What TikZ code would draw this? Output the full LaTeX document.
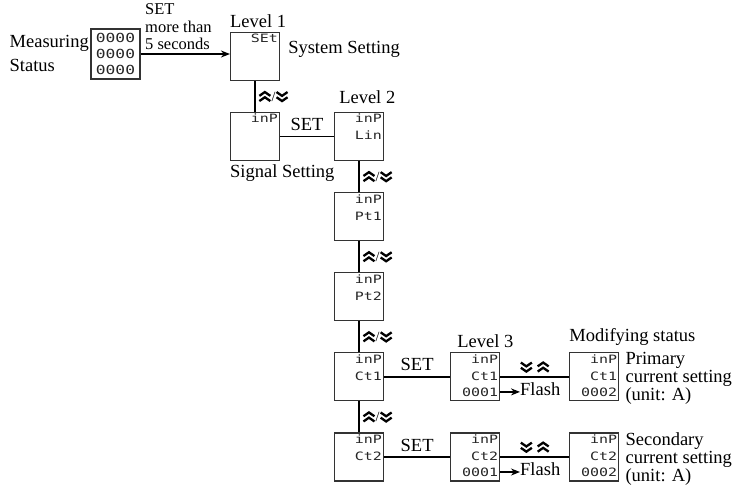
\documentclass[tikz,border=0pt]{standalone}
\usepackage{fontspec}
\setmainfont{Liberation Serif}
\newfontfamily\segfont{DejaVu Sans Mono}[FakeStretch=1.3]
\usetikzlibrary{positioning,arrows.meta}

% double chevrons of the up/down keys
\newcommand{\chup}{\tikz[x=1pt, y=1pt, baseline=0pt]{\draw[line width=2.3pt, line join=miter] (0,0) -- (5.5,3.8) -- (11,0) (0,5.2) -- (5.5,9) -- (11,5.2);}}
\newcommand{\chdn}{\tikz[x=1pt, y=1pt, baseline=0pt]{\draw[line width=2.3pt, line join=miter] (0,9) -- (5.5,5.2) -- (11,9) (0,3.8) -- (5.5,0) -- (11,3.8);}}

\begin{document}
\begin{tikzpicture}[x=1pt, y=-1pt,
        node distance=31pt and 54pt,
        >={Stealth[length=9pt, width=7pt]},
        disp/.style={rectangle, draw=black!80, line width=1.1pt, minimum width=49pt, minimum height=48pt, inner sep=0pt},
        seg/.style={font=\segfont\fontsize{11.5}{17}\selectfont, text=black!85, align=right, inner sep=2pt, anchor=north east},
        val/.style={font=\segfont\fontsize{11.5}{17}\selectfont, text=black!85, inner xsep=2pt, inner ysep=5pt, anchor=south east},
        lbl/.style={font=\fontsize{18.5}{18}\selectfont, inner sep=0pt},
        keys/.style={font=\fontsize{14}{14}\selectfont, inner sep=3pt},
        link/.style={line width=1.6pt}
    ]
    \useasboundingbox (0,0) rectangle (734,491);

    % measuring status and level 1
    \node[disp, minimum height=50pt] (meas) at (115.5,54) {};
    \node[font=\segfont\fontsize{12.5}{16}\selectfont, text=black!85, align=center, inner sep=0pt] (measd) at (meas) {0000\\0000\\0000};
    \node[lbl, align=left, anchor=east, font=\fontsize{18.5}{24}\selectfont] (meast) at (89,53.5) {Measuring\\Status};

    \node[disp] (set) at (255,56.5) {};
    \node[seg] (setd) at (set.north east) {SEt};
    \node[lbl, above right=4pt and 0pt of set.north west] (lv1) {Level 1};
    \node[lbl, below right=9pt and 8pt of set.north east] (sys) {System Setting};

    \draw[link, ->] (meas) -- (meas -| set.west);
    \node[lbl, align=left, anchor=south west, font=\fontsize{16.5}{17.5}\selectfont] (hold) at (145,50) {SET\\more than\\5 seconds};

    % level 2
    \node[disp, below=of set] (inp) {};
    \node[seg] (inpd) at (inp.north east) {inP};
    \node[lbl, below right=3pt and 0pt of inp.south west] (sig) {Signal Setting};
    \draw[link] (set) -- node[keys, right] (k1) {\chup/\chdn} (inp);

    \node[disp, right=of inp] (lin) {};
    \node[seg] (lind) at (lin.north east) {inP\\Lin};
    \node[lbl, above right=8pt and 5pt of lin.north west] (lv2) {Level 2};
    \draw[link] (inp) -- node[lbl, above=5pt] (s1) {SET} (lin);

    \node[disp, below=of lin] (pt1) {};
    \node[seg] (pt1d) at (pt1.north east) {inP\\Pt1};
    \draw[link] (lin) -- node[keys, right] (k2) {\chup/\chdn} (pt1);

    \node[disp, below=of pt1] (pt2) {};
    \node[seg] (pt2d) at (pt2.north east) {inP\\Pt2};
    \draw[link] (pt1) -- node[keys, right] (k3) {\chup/\chdn} (pt2);

    \node[disp, below=of pt2] (ct1) {};
    \node[seg] (ct1d) at (ct1.north east) {inP\\Ct1};
    \draw[link] (pt2) -- node[keys, right] (k4) {\chup/\chdn} (ct1);

    \node[disp, below=of ct1] (ct2) {};
    \node[seg] (ct2d) at (ct2.north east) {inP\\Ct2};
    \draw[link] (ct1) -- node[keys, right] (k5) {\chup/\chdn} (ct2);

    % level 3, primary current
    \node[disp, right=66pt of ct1] (ct1a) {};
    \node[seg] (ct1ad) at (ct1a.north east) {inP\\Ct1};
    \node[val] (ct1av) at (ct1a.south east) {0001};
    \node[lbl, above right=4pt and 7pt of ct1a.north west] (lv3) {Level 3};
    \draw[link] (ct1) -- node[lbl, above=5pt] (s2) {SET} (ct1a);

    \node[disp, right=69pt of ct1a] (ct1m) {};
    \node[seg] (ct1md) at (ct1m.north east) {inP\\Ct1};
    \node[val] (ct1mv) at (ct1m.south east) {0002};
    \node[lbl, above right=7pt and 0pt of ct1m.north west] (mod) {Modifying status};
    \node[lbl, align=left, below right=0pt and 6pt of ct1m.north east] (ct1t) {Primary\\current setting\\(unit: A)};
    \draw[link] (ct1a) -- node[keys, above=1pt] (k6) {\chdn\ \chup} (ct1m);

    \node[lbl, anchor=base west] (fl1) at (520,395) {Flash};
    \draw[line width=1.3pt, ->] (ct1av) -- (ct1av -| fl1.west);

    % level 3, secondary current
    \node[disp, right=66pt of ct2] (ct2a) {};
    \node[seg] (ct2ad) at (ct2a.north east) {inP\\Ct2};
    \node[val] (ct2av) at (ct2a.south east) {0001};
    \draw[link] (ct2) -- node[lbl, above=5pt] (s3) {SET} (ct2a);

    \node[disp, right=69pt of ct2a] (ct2m) {};
    \node[seg] (ct2md) at (ct2m.north east) {inP\\Ct2};
    \node[val] (ct2mv) at (ct2m.south east) {0002};
    \node[lbl, align=left, below right=0pt and 6pt of ct2m.north east] (ct2t) {Secondary\\current setting\\(unit: A)};
    \draw[link] (ct2a) -- node[keys, above=1pt] (k7) {\chdn\ \chup} (ct2m);

    \node[lbl, anchor=base west] (fl2) at (520,475) {Flash};
    \draw[line width=1.3pt, ->] (ct2av) -- (ct2av -| fl2.west);
\end{tikzpicture}
\end{document}
